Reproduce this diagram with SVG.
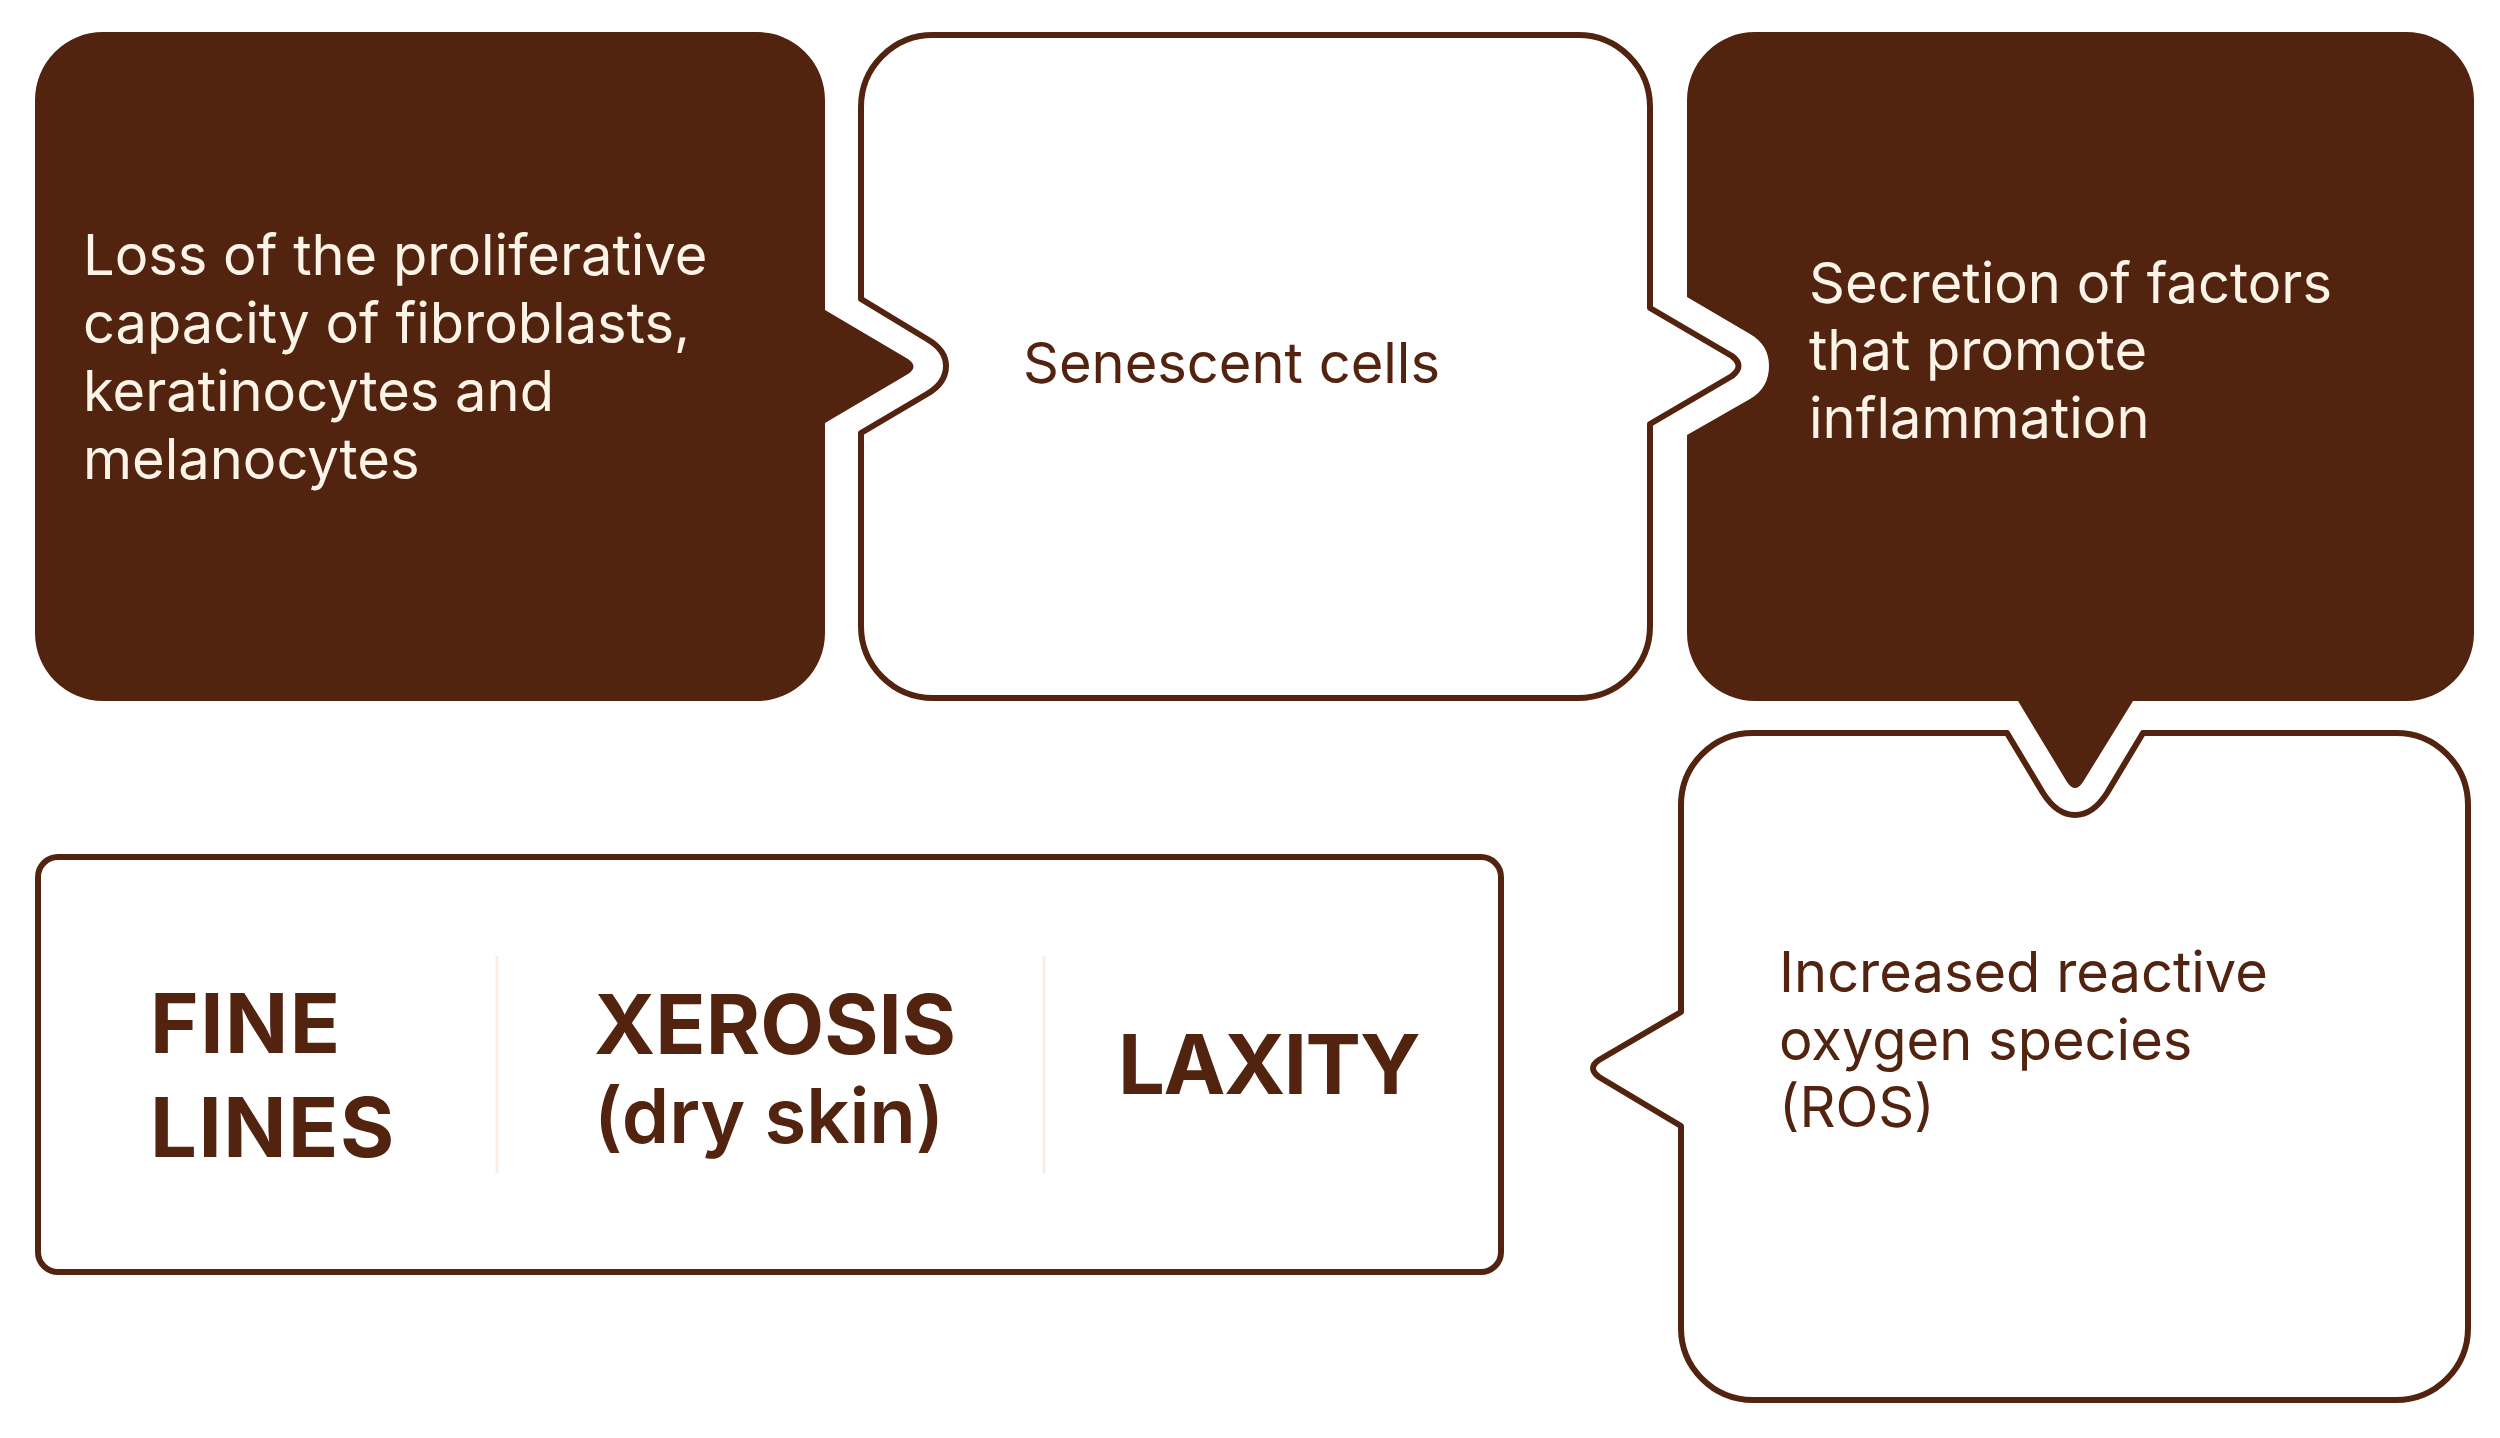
<svg xmlns="http://www.w3.org/2000/svg" width="2500" height="1438" viewBox="0 0 2500 1438">
<style>
.dark{fill:#52240f;}
.outl{fill:#ffffff;stroke:#52240f;stroke-width:6;stroke-linejoin:round;}
.lt{font-family:Inter,"Noto Sans",sans-serif;font-size:56px;fill:#fdf4e8;}
.dt{font-family:Inter,"Noto Sans",sans-serif;font-size:56px;fill:#52240f;}
.bt{font-family:Inter,"Noto Sans",sans-serif;font-size:83px;font-weight:700;fill:#52240f;}
.st{font-family:Inter,"Noto Sans",sans-serif;font-size:76px;font-weight:600;fill:#52240f;}
.div{stroke:#f8eee4;stroke-width:3;}
</style>
<rect width="2500" height="1438" fill="#ffffff"/>
<g id="connectors"></g>
<g id="node-loss">
<path class="dark" d="M103,32 H757 A68 68 0 0 1 825,100 V310 L908,359 Q919,366.5 908,374 L825,423 V633 A68 68 0 0 1 757,701 H103 A68 68 0 0 1 35,633 V100 A68 68 0 0 1 103,32 Z"/>
<text class="lt" x="83" y="275">Loss of the proliferative</text>
<text class="lt" x="83" y="343">capacity of fibroblasts,</text>
<text class="lt" x="83" y="411">keratinocytes and</text>
<text class="lt" x="83" y="479">melanocytes</text>
</g>
<g id="node-senescent">
<path class="outl" d="M933,35 H1578 A72 72 0 0 1 1650,107 V308 L1732,356 Q1745,366 1732,376 L1650,424 V626 A72 72 0 0 1 1578,698 H933 A72 72 0 0 1 861,626 V433 L927,394 Q946,383 946,366 Q946,350 927,339 L861,299 V107 A72 72 0 0 1 933,35 Z"/>
<text class="dt" x="1023" y="383">Senescent cells</text>
</g>
<g id="node-secretion">
<path class="dark" d="M1755,32 H2406 A68 68 0 0 1 2474,100 V633 A68 68 0 0 1 2406,701 H2133 L2083,782 Q2075,794 2067,782 L2018,701 H1755 A68 68 0 0 1 1687,633 V435 L1750,399 Q1769,388 1769,366 Q1769,345 1750,334 L1687,297 V100 A68 68 0 0 1 1755,32 Z"/>
<text class="lt" x="1809" y="303">Secretion of factors</text>
<text class="lt" x="1809" y="370">that promote</text>
<text class="lt" x="1809" y="438">inflammation</text>
</g>
<g id="node-ros">
<path class="outl" d="M1753,733 H2007 L2043,793 Q2057,815 2075,815 Q2093,815 2107,793 L2143,733 H2396 A72 72 0 0 1 2468,805 V1328 A72 72 0 0 1 2396,1400 H1753 A72 72 0 0 1 1681,1328 V1126 L1599,1077 Q1587,1068 1599,1060 L1681,1012 V805 A72 72 0 0 1 1753,733 Z"/>
<text class="dt" x="1779" y="992">Increased reactive</text>
<text class="dt" x="1779" y="1060">oxygen species</text>
<text class="dt" x="1779" y="1127">(ROS)</text>
</g>
<g id="node-effects">
<rect class="outl" x="38" y="857" width="1463" height="415" rx="20"/>
<line class="div" x1="497" y1="956" x2="497" y2="1173"/>
<line class="div" x1="1044" y1="956" x2="1044" y2="1173"/>
<text class="bt" x="150" y="1053" letter-spacing="1.5">FINE</text>
<text class="bt" x="150" y="1157" letter-spacing="1.5">LINES</text>
<text class="bt" x="594" y="1054">XEROSIS</text>
<text class="st" x="594" y="1143">(dry skin)</text>
<text class="bt" x="1118" y="1094" letter-spacing="-1.5">LAXITY</text>
</g>
</svg>
